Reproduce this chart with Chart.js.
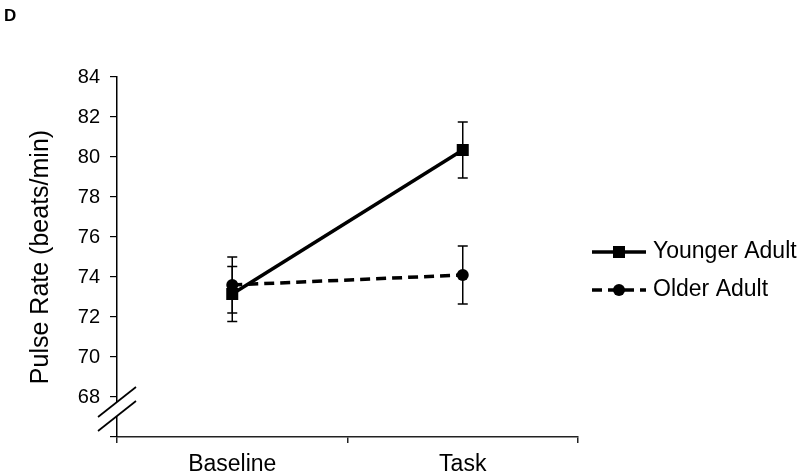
<!DOCTYPE html>
<html>
<head>
<meta charset="utf-8">
<script src="https://cdn.jsdelivr.net/npm/chart.js@4.4.1/dist/chart.umd.min.js"></script>
<style>
  html, body { margin: 0; padding: 0; background: #fff; }
  #wrap { width: 800px; height: 476px; position: relative; }
</style>
</head>
<body>
<div id="wrap"><canvas id="c" width="800" height="476"></canvas></div>
<script>
// ---- data ----
const categories = ['Baseline', 'Task'];
const seriesNames = ['Younger Adult', 'Older Adult'];
const youngerMeans = [73.15, 80.35];
const youngerErrors = [1.38, 1.40];
const olderMeans = [73.60, 74.10];
const olderErrors = [1.40, 1.45];
const yMin = 66, yMax = 84, yStep = 2;
const hiddenTickValues = [66];
const yTitle = 'Pulse Rate (beats/min)';
const panelLetter = 'D';

const FONT = '"Liberation Sans", Arial, sans-serif';
const errorsBySeries = [youngerErrors, olderErrors];

const errorBars = {
  id: 'errorBars',
  beforeDatasetsDraw(chart) {
    const { ctx, scales: { x, y } } = chart;
    ctx.save();
    ctx.strokeStyle = '#000';
    ctx.lineWidth = 1.5;
    chart.data.datasets.forEach((ds, di) => {
      const errs = errorsBySeries[di];
      ds.data.forEach((v, i) => {
        const px = x.getPixelForValue(i);
        const top = y.getPixelForValue(v + errs[i]);
        const bot = y.getPixelForValue(v - errs[i]);
        ctx.beginPath();
        ctx.moveTo(px, top); ctx.lineTo(px, bot);
        ctx.moveTo(px - 5, top); ctx.lineTo(px + 5, top);
        ctx.moveTo(px - 5, bot); ctx.lineTo(px + 5, bot);
        ctx.stroke();
      });
    });
    ctx.restore();
  }
};

const extras = {
  id: 'extras',
  afterDraw(chart) {
    const { ctx, scales: { y } } = chart;
    ctx.save();
    // axis break
    const ax = y.right;
    const y1 = y.getPixelForValue(67.75);
    const y2 = y.getPixelForValue(67.05);
    const hx = 19, hy = 15;
    ctx.fillStyle = '#fff';
    ctx.beginPath();
    ctx.moveTo(ax - 4, y1 + hy * 4 / hx);
    ctx.lineTo(ax + 4, y1 - hy * 4 / hx);
    ctx.lineTo(ax + 4, y2 - hy * 4 / hx);
    ctx.lineTo(ax - 4, y2 + hy * 4 / hx);
    ctx.closePath();
    ctx.fill();
    ctx.strokeStyle = '#000';
    ctx.lineWidth = 1.7;
    [y1, y2].forEach(yy => {
      ctx.beginPath();
      ctx.moveTo(ax - hx, yy + hy);
      ctx.lineTo(ax + hx, yy - hy);
      ctx.stroke();
    });

    // legend
    const lx0 = 592, lx1 = 646, mx = 619, tx = 653;
    const rows = [252, 290];
    chart.data.datasets.forEach((ds, di) => {
      const ly = rows[di];
      ctx.strokeStyle = '#000';
      ctx.lineWidth = 3.5;
      ctx.setLineDash(ds.borderDash || []);
      ctx.beginPath();
      ctx.moveTo(lx0, ly); ctx.lineTo(lx1, ly);
      ctx.stroke();
      ctx.setLineDash([]);
      ctx.fillStyle = '#000';
      if (ds.pointStyle === 'rect') {
        ctx.fillRect(mx - 6, ly - 6, 12, 12);
      } else {
        ctx.beginPath();
        ctx.arc(mx, ly, 6, 0, Math.PI * 2);
        ctx.fill();
      }
      ctx.font = '23px ' + FONT;
      ctx.textAlign = 'left';
      ctx.textBaseline = 'middle';
      ctx.fillText(ds.label, tx, ly);
    });

    // panel letter
    ctx.font = 'bold 17px ' + FONT;
    ctx.textAlign = 'left';
    ctx.textBaseline = 'alphabetic';
    ctx.fillStyle = '#000';
    ctx.fillText(panelLetter, 4, 21);
    ctx.restore();
  }
};

new Chart(document.getElementById('c'), {
  type: 'line',
  data: {
    labels: categories,
    datasets: [
      {
        label: seriesNames[0],
        data: youngerMeans,
        borderColor: '#000',
        backgroundColor: '#000',
        borderWidth: 3.5,
        pointStyle: 'rect',
        pointRadius: 8.5,
        pointBorderWidth: 0,
        pointBackgroundColor: '#000'
      },
      {
        label: seriesNames[1],
        data: olderMeans,
        borderColor: '#000',
        backgroundColor: '#000',
        borderWidth: 3.5,
        borderDash: [10, 6],
        pointStyle: 'circle',
        pointRadius: 6,
        pointBorderWidth: 0,
        pointBackgroundColor: '#000'
      }
    ]
  },
  options: {
    responsive: false,
    animation: false,
    layout: { padding: { top: 77, right: 222, bottom: 0, left: 0 } },
    plugins: { legend: { display: false }, tooltip: { enabled: false }, title: { display: false } },
    scales: {
      x: {
        type: 'category',
        offset: true,
        grid: { offset: true, drawOnChartArea: false, drawTicks: true, tickLength: 6, color: '#222', lineWidth: 1.5 },
        border: { display: true, color: '#222', width: 1.5 },
        ticks: { color: '#000', font: { family: FONT, size: 23 }, padding: 8, maxRotation: 0 },
        afterFit(scale) { scale.height = 39; }
      },
      y: {
        min: yMin,
        max: yMax,
        grid: { drawOnChartArea: false, drawTicks: true, tickLength: 7, color: '#000', lineWidth: 1.2 },
        border: { display: true, color: '#000', width: 1.5 },
        ticks: {
          stepSize: yStep,
          color: '#000',
          font: { family: FONT, size: 20 },
          padding: 10,
          callback: (v) => hiddenTickValues.includes(v) ? '' : String(v)
        },
        title: { display: true, text: yTitle, color: '#000', font: { family: FONT, size: 25 }, padding: { top: 26, bottom: 0 } },
        afterFit(scale) { scale.width = 117; }
      }
    }
  },
  plugins: [errorBars, extras]
});
</script>
</body>
</html>
